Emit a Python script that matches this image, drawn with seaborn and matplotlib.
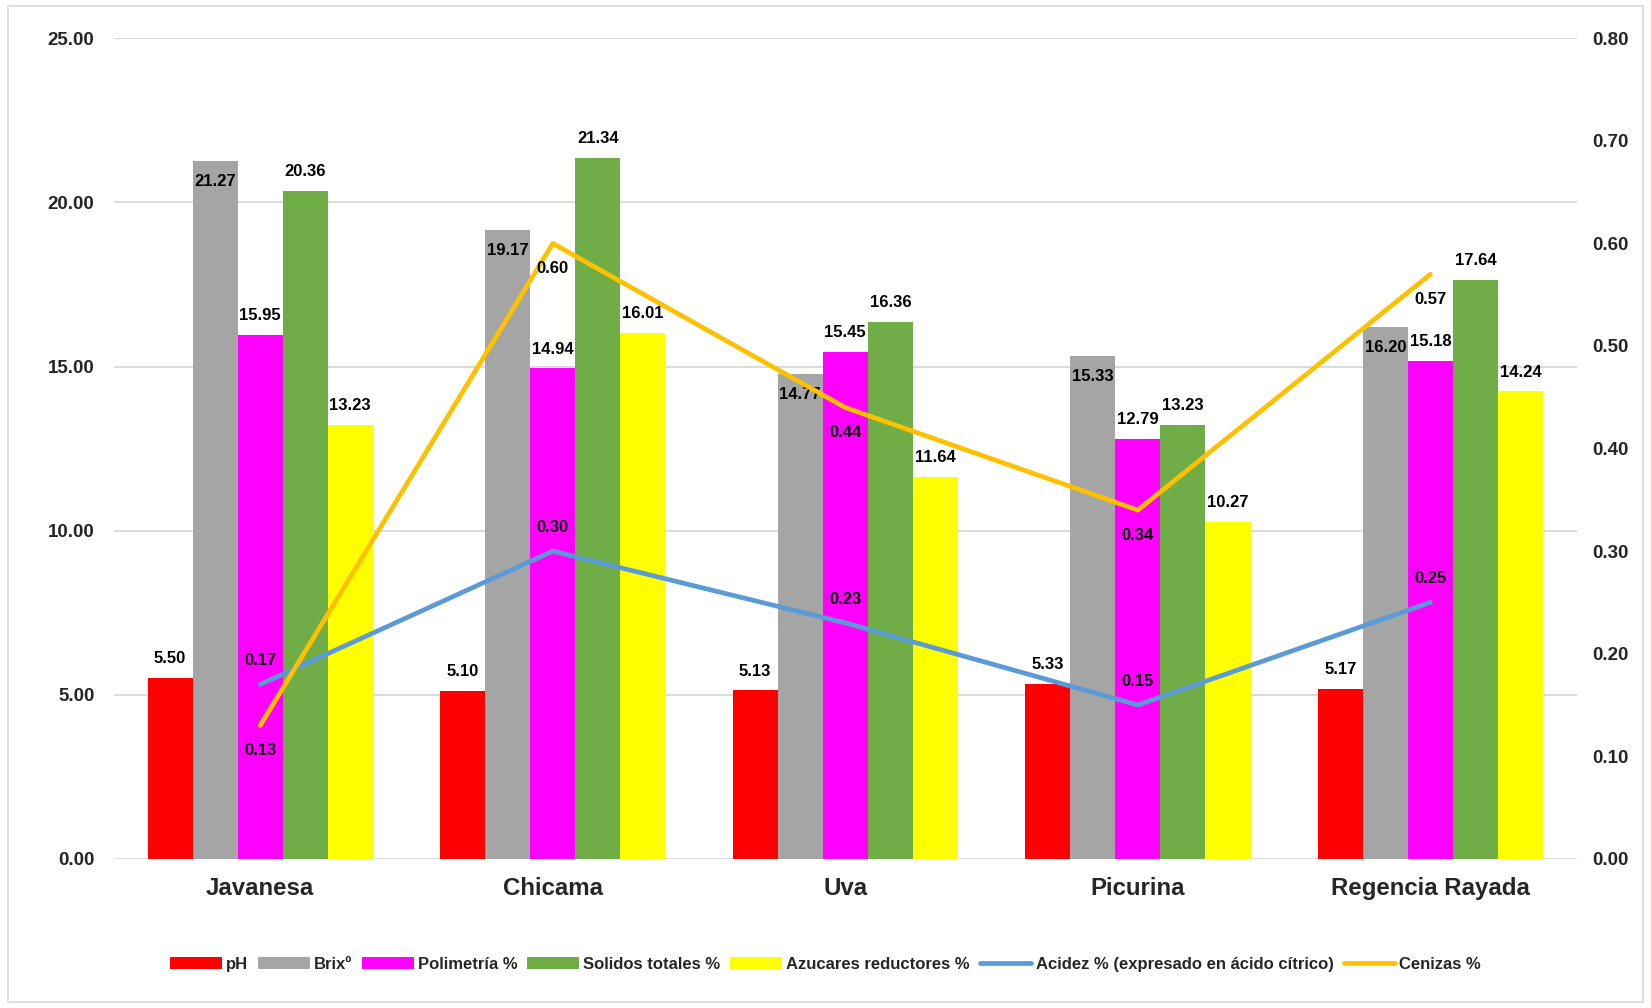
import numpy as np
import pandas as pd
import matplotlib
matplotlib.use("Agg")
import matplotlib.pyplot as plt
import seaborn as sns
from matplotlib.patches import Patch, Rectangle
from matplotlib.lines import Line2D

categories = ["Javanesa", "Chicama", "Uva", "Picurina", "Regencia Rayada"]
ph = [5.50, 5.10, 5.13, 5.33, 5.17]
brix = [21.27, 19.17, 14.77, 15.33, 16.20]
polimetria = [15.95, 14.94, 15.45, 12.79, 15.18]
solidos = [20.36, 21.34, 16.36, 13.23, 17.64]
azucares = [13.23, 16.01, 11.64, 10.27, 14.24]
acidez = [0.17, 0.30, 0.23, 0.15, 0.25]
cenizas = [0.13, 0.60, 0.44, 0.34, 0.57]

bar_names = ["pH", "Brixº", "Polimetría %", "Solidos totales %", "Azucares reductores %"]
bar_series = [ph, brix, polimetria, solidos, azucares]
bar_colors = ["#FF0000", "#A5A5A5", "#FF00FF", "#70AD47", "#FFFF00"]
line_names = ["Acidez % (expresado en ácido cítrico)", "Cenizas %"]
line_colors = ["#5B9BD5", "#FFC000"]

rows = []
for name, vals in zip(bar_names, bar_series):
    for c, v in zip(categories, vals):
        rows.append({"cat": c, "serie": name, "val": v})
df = pd.DataFrame(rows)

sns.set_theme(style="white")
plt.rcParams["font.family"] = ["Liberation Sans", "DejaVu Sans"]
plt.rcParams["font.weight"] = "bold"

fig = plt.figure(figsize=(16.51, 10.08), dpi=100)
ax = fig.add_axes([0.069, 0.148, 0.886, 0.814])

sns.barplot(data=df, x="cat", y="val", hue="serie", hue_order=bar_names,
            order=categories, palette=bar_colors, width=0.77, gap=0,
            linewidth=0, saturation=1, ax=ax, legend=False, errorbar=None)

ax.set_ylim(0, 25)
ax.set_yticks(np.arange(0, 25.01, 5))
ax.set_yticklabels([f"{v:.2f}" for v in np.arange(0, 25.01, 5)], fontsize=13.5, fontweight="bold")
ax.yaxis.grid(True, color="#D9D9D9", linewidth=1.3)
ax.set_axisbelow(True)
ax.set_xlabel("")
ax.set_ylabel("")
ax.set_xticks(range(len(categories)))
ax.set_xticklabels(categories, fontsize=17.3, fontweight="bold")
ax.tick_params(axis="x", length=0, pad=13)
ax.tick_params(axis="y", length=0, pad=14)
for s in ax.spines.values():
    s.set_visible(False)
ax.set_xlim(-0.5, len(categories) - 0.5)

for i, cont in enumerate(ax.containers):
    for bar, v in zip(cont, bar_series[i]):
        x = bar.get_x() + bar.get_width() / 2
        off = -15 if i == 1 else 14
        ax.annotate(f"{v:.2f}", (x, v), xytext=(0, off), textcoords="offset points",
                    ha="center", va="center", fontsize=12, fontweight="bold", color="black")

ax2 = ax.twinx()
xs = np.arange(len(categories))
for vals, col in zip([acidez, cenizas], line_colors):
    sns.lineplot(x=xs, y=vals, color=col, linewidth=3.4, ax=ax2, solid_capstyle="round")
ax2.set_ylim(0, 0.8)
ax2.set_yticks(np.arange(0, 0.801, 0.1))
ax2.set_yticklabels([f"{v:.2f}" for v in np.arange(0, 0.801, 0.1)], fontsize=13.5, fontweight="bold")
ax2.tick_params(axis="y", length=0, pad=11)
ax2.set_ylabel("")
for s in ax2.spines.values():
    s.set_visible(False)
ax2.grid(False)

for x, v in zip(xs, acidez):
    ax2.annotate(f"{v:.2f}", (x, v), xytext=(0, 17), textcoords="offset points",
                 ha="center", va="center", fontsize=12, fontweight="bold", color="black")
for x, v in zip(xs, cenizas):
    ax2.annotate(f"{v:.2f}", (x, v), xytext=(0, -18), textcoords="offset points",
                 ha="center", va="center", fontsize=12, fontweight="bold", color="black")

handles = [Patch(facecolor=c, edgecolor="none", label=n) for n, c in zip(bar_names, bar_colors)]
handles += [Line2D([0], [0], color=c, linewidth=3.4, label=n) for n, c in zip(line_names, line_colors)]
leg = fig.legend(handles=handles, loc="center", bbox_to_anchor=(0.5, 0.043), ncol=7,
                 frameon=False, prop={"size": 12, "weight": "bold"},
                 handlelength=3.1, handleheight=0.7, handletextpad=0.25, columnspacing=0.6)

fig.patches.append(Rectangle((0.005, 0.006), 0.99, 0.988, transform=fig.transFigure,
                             fill=False, edgecolor="#D9D9D9", linewidth=1.2))

fig.savefig("out.png", dpi=100)
